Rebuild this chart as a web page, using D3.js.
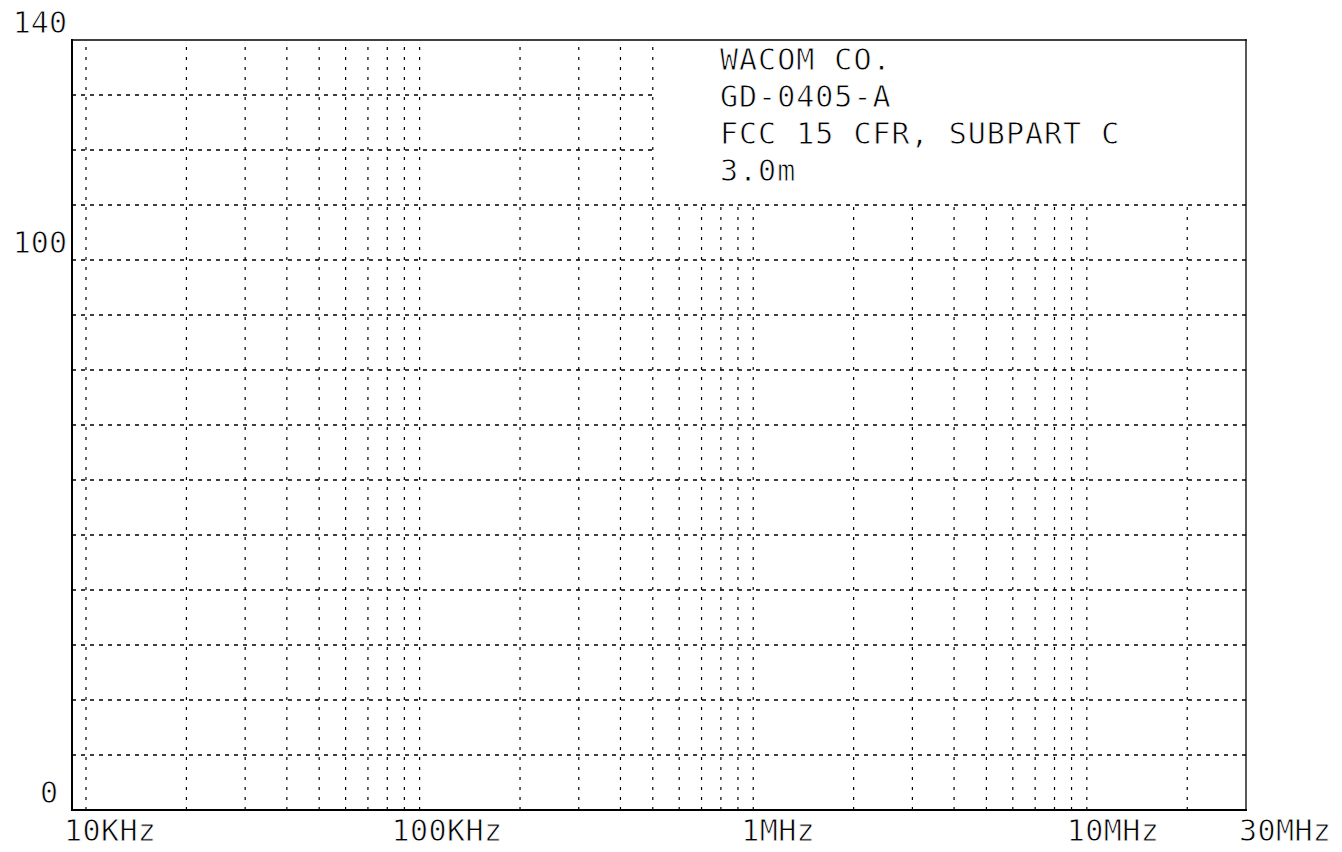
<!DOCTYPE html>
<html>
<head>
<meta charset="utf-8">
<script src="https://cdn.jsdelivr.net/npm/d3@7"></script>
<style>
  html, body { margin: 0; padding: 0; background: #fff; }
  svg { display: block; }
  .lbl { font-family: "DejaVu Sans Mono", "Liberation Mono", monospace; font-size: 30px; fill: #000;
         stroke: #fff; stroke-width: 0.8px; }
</style>
</head>
<body>
<svg id="chart" width="1342" height="852"></svg>
<script>
// ---- data ----
const freqTicks = [1e4, 1e5, 1e6, 1e7, 3e7];
const freqTickLabels = ["10KHz", "100KHz", "1MHz", "10MHz", "30MHz"];
const levelTicks = [140, 100, 0];
const levelTickLabels = ["140", "100", "0"];
const gridFreqs = [1e4, 2e4, 3e4, 4e4, 5e4, 6e4, 7e4, 8e4, 9e4,
                   1e5, 2e5, 3e5, 4e5, 5e5, 6e5, 7e5, 8e5, 9e5,
                   1e6, 2e6, 3e6, 4e6, 5e6, 6e6, 7e6, 8e6, 9e6,
                   1e7, 2e7];
const gridLevels = [10, 20, 30, 40, 50, 60, 70, 80, 90, 100, 110, 120, 130];
const noteLines = ["WACOM CO.", "GD-0405-A", "FCC 15 CFR, SUBPART C", "3.0m"];
const noteFreq = 5e5;      // note box starts at this grid frequency
const noteLevel = 110;     // note box bottom edge level

// ---- layout ----
const svg = d3.select("#chart");
const x = d3.scaleLog().domain([1e4, 3e7]).range([86, 1246]);
const y = d3.scaleLinear().domain([0, 140]).range([810, 40]);
const frameL = x(1e4) - 14, frameR = x(3e7), frameT = y(140), frameB = y(0);
const xLabelDx = [-22, -28, -12, -20, -7];
const yLabelX = [67, 67, 58];

const g = svg.append("g");

// horizontal grid
g.selectAll("line.h").data(gridLevels).enter().append("line")
  .attr("x1", frameL)
  .attr("x2", d => d > noteLevel ? x(noteFreq) : frameR)
  .attr("y1", d => y(d)).attr("y2", d => y(d))
  .attr("stroke", "#000").attr("stroke-width", 1.3)
  .attr("stroke-dasharray", "4,5");

// vertical grid
g.selectAll("line.v").data(gridFreqs).enter().append("line")
  .attr("x1", d => x(d)).attr("x2", d => x(d))
  .attr("y1", frameB)
  .attr("y2", d => d > noteFreq ? y(noteLevel) : frameT)
  .attr("stroke", "#000").attr("stroke-width", 1.2)
  .attr("stroke-dasharray", "3,7");

// frame
const frame = [
  [frameL, frameT, frameR, frameT, 1.6],
  [frameL, frameB, frameR, frameB, 2],
  [frameL, frameT, frameL, frameB, 2],
  [frameR, frameT, frameR, frameB, 1.3]
];
g.selectAll("line.f").data(frame).enter().append("line")
  .attr("x1", d => d[0]).attr("y1", d => d[1])
  .attr("x2", d => d[2]).attr("y2", d => d[3])
  .attr("stroke", "#000").attr("stroke-width", d => d[4])
  .attr("stroke-linecap", "square");

// x labels
g.selectAll("text.xl").data(freqTicks).enter().append("text")
  .attr("class", "lbl")
  .attr("x", (d, i) => x(d) + xLabelDx[i])
  .attr("y", 841)
  .attr("letter-spacing", "0.4px")
  .text((d, i) => freqTickLabels[i]);

// y labels
g.selectAll("text.yl").data(levelTicks).enter().append("text")
  .attr("class", "lbl")
  .attr("text-anchor", "end")
  .attr("x", (d, i) => yLabelX[i])
  .attr("y", d => y(d) - 7)
  .text((d, i) => levelTickLabels[i]);

// note text
g.selectAll("text.note").data(noteLines).enter().append("text")
  .attr("class", "lbl")
  .attr("x", 720)
  .attr("y", (d, i) => 70 + i * 37)
  .attr("letter-spacing", "1px")
  .text(d => d);
</script>
</body>
</html>
